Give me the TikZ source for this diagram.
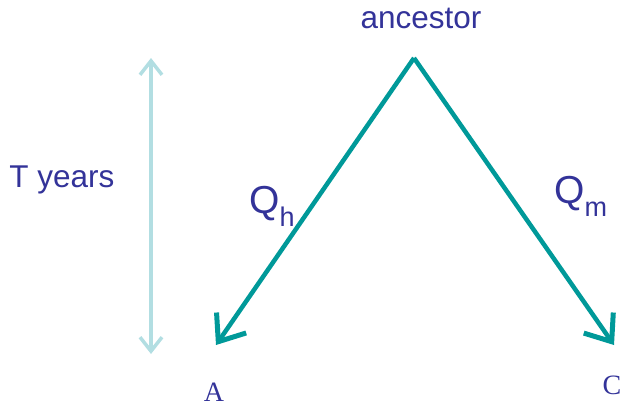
\documentclass[tikz,border=0pt]{standalone}
\usepackage{fontspec}
\setmainfont{Liberation Serif}
\setsansfont{Liberation Sans}
\usetikzlibrary{arrows.meta}
\definecolor{teal1}{RGB}{0,153,153}
\definecolor{pale}{RGB}{178,222,226}
\definecolor{navy}{RGB}{51,51,153}
\begin{document}
\begin{tikzpicture}[x=1pt,y=-1pt,
  lab/.style={text=navy,font=\sffamily\fontsize{31.5}{34}\selectfont,inner sep=0pt},
  qlab/.style={text=navy,font=\sffamily\fontsize{39}{42}\selectfont,inner sep=0pt},
  leaf/.style={text=navy,font=\rmfamily\fontsize{28}{30}\selectfont,inner sep=0pt},
  branch/.style={draw=teal1,line width=4.5pt,-{Straight Barb[length=23pt,width=36pt,line width=5pt]}},
  span/.style={draw=pale,line width=3.5pt,{Straight Barb[length=14pt,width=22pt,line width=3.5pt]}-{Straight Barb[length=14pt,width=22pt,line width=3.5pt]}}]
\useasboundingbox (0,0) rectangle (624,408);
\node[lab] (anc) at (421,18) {ancestor};
\coordinate (apex) at (414,58);
\coordinate (tipA) at (216,345);
\coordinate (tipC) at (614,345);
\node[leaf] (A) at (214,392) {A};
\node[leaf] (C) at (612,385) {C};
\node[lab] (T) at (62,180) {T years};
\coordinate (top) at (151,58);
\coordinate (bot) at (151,354);
\node[qlab,anchor=base west] (Qh) at (249,213) {Q\raisebox{-13pt}{\fontsize{27}{29}\selectfont h}};
\node[qlab,anchor=base west] (Qm) at (554,203) {Q\raisebox{-13pt}{\fontsize{27}{29}\selectfont m}};
\draw[branch] (apex) -- (tipA);
\draw[branch] (apex) -- (tipC);
\draw[span] (top) -- (bot);
\end{tikzpicture}
\end{document}
